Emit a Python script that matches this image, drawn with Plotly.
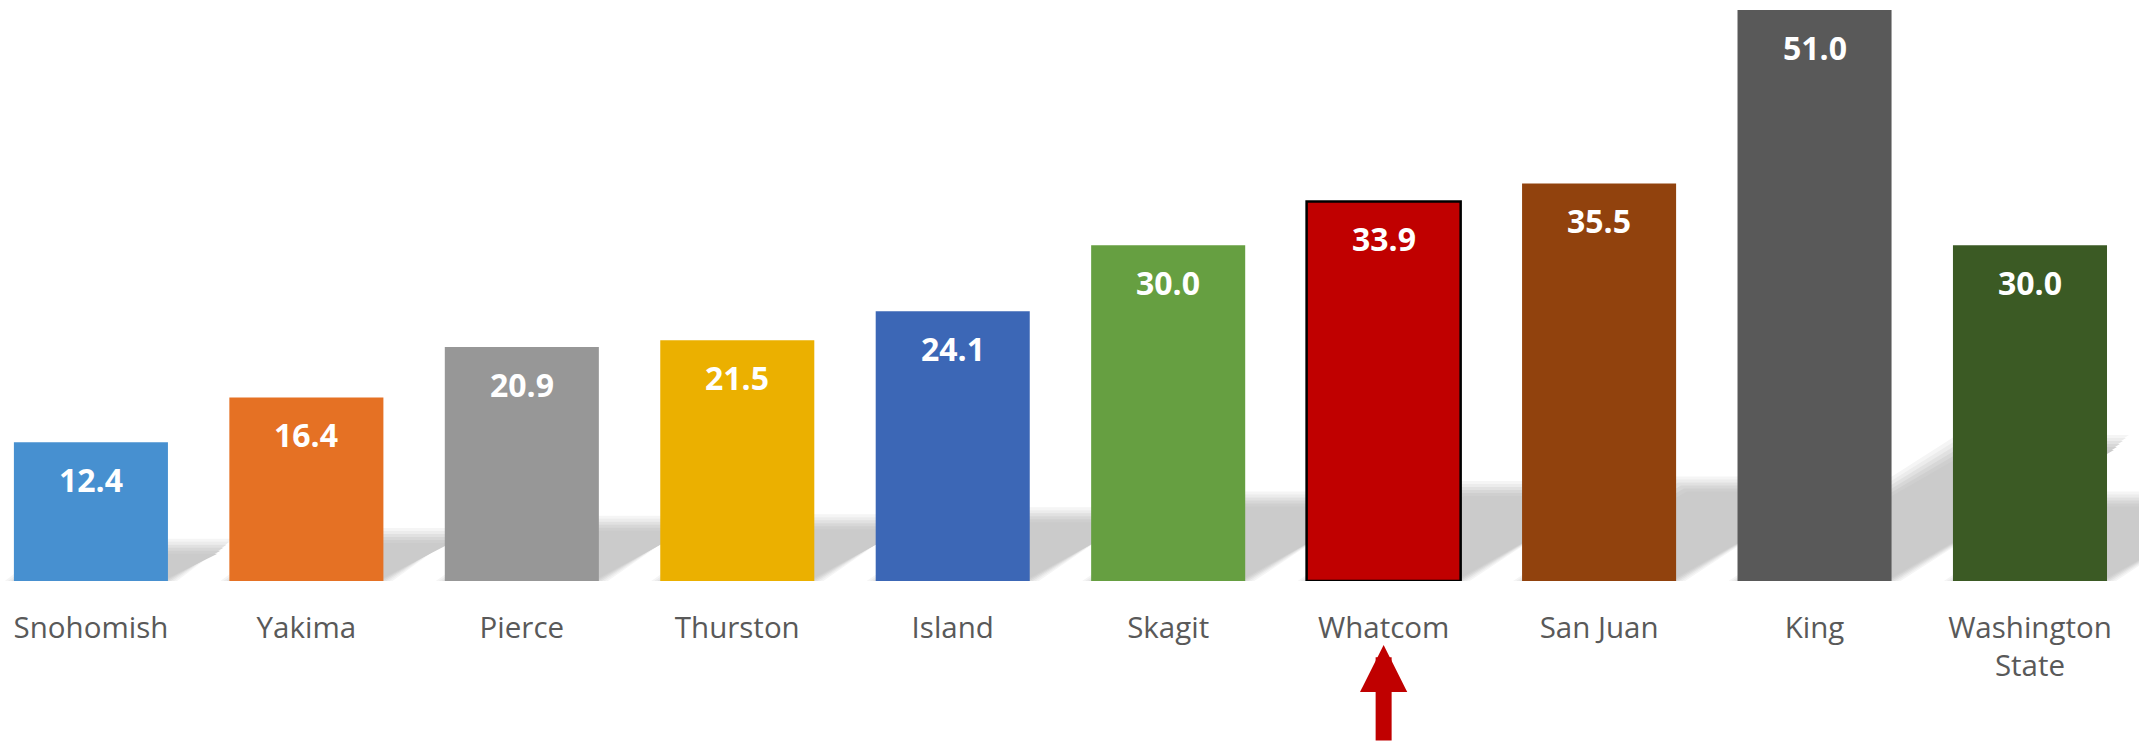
import plotly.graph_objects as go

# county values, left to right as they appear on the chart
COUNTIES = [
    "Snohomish", "Yakima", "Pierce", "Thurston", "Island",
    "Skagit", "Whatcom", "San Juan", "King", "Washington<br>State",
]
VALUES = [12.4, 16.4, 20.9, 21.5, 24.1, 30.0, 33.9, 35.5, 51.0, 30.0]
BAR_COLORS = [
    "#4790D0", "#E57124", "#979797", "#EBB000", "#3C67B6",
    "#669F41", "#C00000", "#91420D", "#595959", "#3B5A24",
]
HIGHLIGHT = "Whatcom"

W, H = 2139, 742
MARGIN_B = 161
BARGAP = 0.285
X_RANGE = [-0.422, 9.506]
Y_RANGE = [0, 51.9]

# px per data unit, used to size the fake drop-shadow
PX_X = W / (X_RANGE[1] - X_RANGE[0])
PX_Y = (H - MARGIN_B) / (Y_RANGE[1] - Y_RANGE[0])
SHADOW_H = 0.24      # shadow height as share of bar height
SHADOW_SLOPE = 0.6   # rise / run of the shadow skew (pixels)


def shadow_shapes():
    """Soft skewed shadow behind each bar, faked with a few stacked layers."""
    half = (1 - BARGAP) / 2
    layers = [(9, "#f5f5f5"), (6, "#ececec"), (3, "#e1e1e1"),
              (0, "#d7d7d7"), (-3, "#cfcfcf"), (-6, "#cbcbcb")]
    shapes = []
    for grow, color in layers:
        for i, v in enumerate(VALUES):
            top_px = SHADOW_H * v * PX_Y
            dx = top_px / SHADOW_SLOPE / PX_X
            top = (top_px + grow) / PX_Y
            x0 = i - half - grow / PX_X
            x1 = i + half + grow / PX_X
            shapes.append(dict(
                type="path", xref="x", yref="y", layer="below",
                path=f"M {x0},0 L {x1},0 L {x1 + dx},{top} L {x0 + dx},{top} Z",
                fillcolor=color, line=dict(width=0),
            ))
    return shapes


fig = go.Figure()
fig.add_bar(
    x=COUNTIES,
    y=VALUES,
    marker=dict(
        color=BAR_COLORS,
        line=dict(
            color="#000000",
            width=[2.5 if c == HIGHLIGHT else 0 for c in COUNTIES],
        ),
    ),
    hovertemplate="%{x}: %{y:.1f}<extra></extra>",
)

annotations = [
    dict(
        x=c, y=v, xref="x", yref="y", text=f"{v:.1f}", showarrow=False,
        yanchor="middle", yshift=-37,
        font=dict(family="Open Sans", size=32, color="white", weight="bold"),
    )
    for c, v in zip(COUNTIES, VALUES)
]
# red arrow pointing at the highlighted county
annotations.append(dict(
    x=HIGHLIGHT, y=-0.11, xref="x", yref="paper", text="",
    showarrow=True, ax=0, ay=140, arrowhead=2, arrowsize=0.59,
    arrowwidth=16, arrowcolor="#C00000", standoff=0,
))

fig.update_layout(
    width=W,
    height=H,
    margin=dict(l=0, r=0, t=0, b=MARGIN_B),
    bargap=BARGAP,
    plot_bgcolor="white",
    paper_bgcolor="white",
    showlegend=False,
    font=dict(family="Open Sans", size=29.5, color="#595959"),
    shapes=shadow_shapes(),
    annotations=annotations,
)
fig.update_xaxes(
    range=X_RANGE, showgrid=False, zeroline=False, showline=False,
    ticks="", ticklabelstandoff=26,
)
fig.update_yaxes(
    range=Y_RANGE, showgrid=False, zeroline=False, showline=False,
    showticklabels=False,
)

# drop the browser's default body margin so the figure sits at 0,0
fig.write_html(
    "out.html",
    config={"displayModeBar": False},
    post_script="document.body.style.margin='0';",
)
